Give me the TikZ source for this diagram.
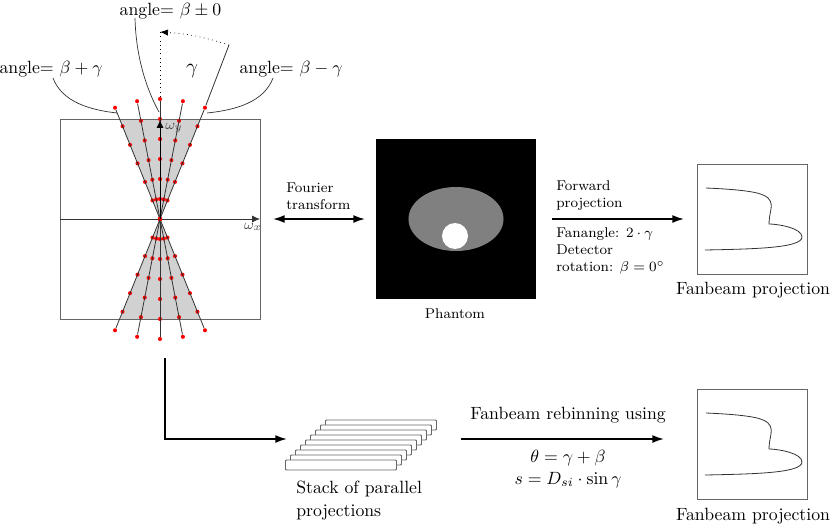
\documentclass[tikz,border=0pt]{standalone}
\usepackage{amsmath, amssymb}
\usetikzlibrary{arrows.meta}
\usetikzlibrary{shapes}
\usetikzlibrary{calc}

\begin{document}
\begin{tikzpicture}[x = 0.564pt, y = -0.564pt]
	\tikzstyle{frameStyle} = [draw = black!60, line width = 0.55pt]
	\tikzstyle{rayStyle} = [draw = black!80, line width = 0.45pt]
	\tikzstyle{dotStyle} = [shape = circle, fill = red, inner sep = 0pt, minimum size = 2.3pt]
	\tikzstyle{thickArrow} = [-{Latex[length = 6.5pt, width = 4.4pt]}, line width = 0.9pt]
	\tikzstyle{leaderStyle} = [draw = black!80, line width = 0.4pt]
	\tikzstyle{smallText} = [font = \footnotesize, align = left, inner sep = 0pt, anchor = west]
	\tikzstyle{stackStyle} = [draw = black!60, fill = white, line width = 0.55pt, rounded corners = 0.5pt, minimum width = 62.6pt, minimum height = 5.64pt, inner sep = 0pt]
	\tikzstyle{plotStyle} = [draw = black!60, line width = 0.55pt, minimum size = 62.04pt, inner sep = 0pt]
	\path[use as bounding box] (0,0) rectangle (830,524);
	% fourier domain
	\coordinate (center) at (160,219);
	\fill[black!18] (center) -- (119.6,119) -- (200.4,119) -- cycle;
	\fill[black!18] (center) -- (119.6,319) -- (200.4,319) -- cycle;
	\node[frameStyle, minimum size = 112.8pt, inner sep = 0pt] (fourierbox) at (160,219) {};
	\coordinate (axisleft) at (60,219);
	\coordinate (axisright) at (260,219);
	\coordinate (axistop) at (160,120);
	\draw[rayStyle, -{Latex[length = 4.5pt, width = 4pt]}] (axisleft) -- (axisright);
	\foreach \d/\n in {-22/a, -11/b, 0/c, 11/d, 22/e}{
		\foreach \r in {0,20,...,120}{
			\node[dotStyle] (up\n\r) at ($(center) + ({-90+\d}:\r)$) {};
			\node[dotStyle] (down\n\r) at ($(center) + ({90+\d}:\r)$) {};
		}
		\draw[rayStyle] (center) -- (up\n120);
		\draw[rayStyle] (center) -- (down\n120);
	}
	\draw[-{Latex[length = 4.5pt, width = 4pt]}, line width = 0.45pt] (center) -- (axistop);
	\node[font = \footnotesize, text = black!70, inner sep = 0pt] (omegay) at (174,128) {$\omega_y$};
	\node[font = \footnotesize, text = black!70, inner sep = 0pt] (omegax) at (253,227) {$\omega_x$};
	% fan angle
	\coordinate (fantop) at (229,45);
	\coordinate (midtop) at (160,32);
	\draw[rayStyle] (upe120) -- (fantop);
	\draw[dotted, line width = 0.4pt] (upc120) -- (midtop);
	\draw[dotted, line width = 0.4pt, -{Latex[length = 4.5pt, width = 3.5pt]}] (fantop) to[bend right = 7] (midtop);
	\node[font = \large, inner sep = 0pt] (gammalabel) at (192,71) {$\gamma$};
	\node[inner sep = 0pt] (anglepos) at (51,69) {angle= $\beta+\gamma$};
	\node[inner sep = 0pt] (anglezero) at (170.5,11) {angle= $\beta\pm0$};
	\node[inner sep = 0pt] (angleneg) at (291,69) {angle= $\beta-\gamma$};
	\coordinate (poshit) at (117,113);
	\coordinate (zerohit) at (159,112);
	\coordinate (neghit) at (207,113);
	\draw[leaderStyle] (53,78) .. controls (62,102) and (90,110) .. (poshit);
	\draw[leaderStyle] (135,18) .. controls (136,60) and (148,92) .. (zerohit);
	\draw[leaderStyle] (273,78) .. controls (264,102) and (236,110) .. (neghit);
	% phantom
	\node[fill = black, minimum size = 90.24pt, inner sep = 0pt] (phantom) at (456,219) {};
	\node[shape = ellipse, fill = black!50, minimum width = 53.6pt, minimum height = 36.1pt, inner sep = 0pt] (phantomoval) at (456,219) {};
	\node[shape = circle, fill = white, minimum size = 14.66pt, inner sep = 0pt] (phantomdisc) at (455,236) {};
	\node[font = \footnotesize, inner sep = 0pt] (phantomlabel) at (455,314) {Phantom};
	\coordinate (fourierleft) at (273,219);
	\coordinate (fourierright) at (365,219);
	\draw[thickArrow, {Latex[length = 6.5pt, width = 4.4pt]}-{Latex[length = 6.5pt, width = 4.4pt]}] (fourierleft) -- (fourierright);
	\node[smallText] (fourierlabel) at (286,196.5) {Fourier\\[0pt]transform};
	% forward projection
	\coordinate (forwardstart) at (552,219);
	\node[plotStyle] (plotone) at (752,219) {};
	\coordinate (forwardend) at (684,219);
	\draw[thickArrow] (forwardstart) -- (forwardend);
	\node[smallText] (forwardlabel) at (556,195.5) {Forward\\[0pt]projection};
	\node[smallText] (fanlabel) at (556,251) {Fanangle: $2\cdot\gamma$\\[0pt]Detector\\[0pt]rotation: $\beta=0^\circ$};
	\node[inner sep = 0pt] (plotonelabel) at (753,290) {Fanbeam projection};
	\draw[rayStyle] (706,188) .. controls (730,189) and (755,191) .. (763,195) .. controls (771,198) and (772,204) .. (771,209) .. controls (770,214) and (769,220) .. (769,224) .. controls (778,224) and (802,228) .. (802,237) .. controls (802,248) and (755,249) .. (705,250);
	% rebinning
	\coordinate (lstart) at (165,358);
	\coordinate (lcorner) at (165,439);
	\coordinate (lend) at (287,439);
	\draw[thickArrow] (lstart) -- (lcorner) -- (lend);
	\foreach \i in {8,7,...,0}{
		\node[stackStyle] (stack\i) at ({341+5*\i},{465-5*\i}) {};
	}
	\node[inner sep = 0pt, align = left, anchor = west] (stacklabel) at (296,500.5) {Stack of parallel\\[1pt]projections};
	\coordinate (rebinstart) at (461,439);
	\coordinate (rebinend) at (664,439);
	\draw[thickArrow] (rebinstart) -- (rebinend);
	\node[inner sep = 0pt] (rebinlabel) at (568,415) {Fanbeam rebinning using};
	\node[inner sep = 0pt] (thetalabel) at (568,458) {$\theta=\gamma+\beta$};
	\node[inner sep = 0pt] (slabel) at (568,480) {$s=D_{si}\cdot\sin\gamma$};
	\node[plotStyle] (plottwo) at (752,444) {};
	\node[inner sep = 0pt] (plottwolabel) at (753,516) {Fanbeam projection};
	\draw[rayStyle, yshift = -126.9pt] (706,188) .. controls (730,189) and (755,191) .. (763,195) .. controls (771,198) and (772,204) .. (771,209) .. controls (770,214) and (769,220) .. (769,224) .. controls (778,224) and (802,228) .. (802,237) .. controls (802,248) and (755,249) .. (705,250);
\end{tikzpicture}
\end{document}
